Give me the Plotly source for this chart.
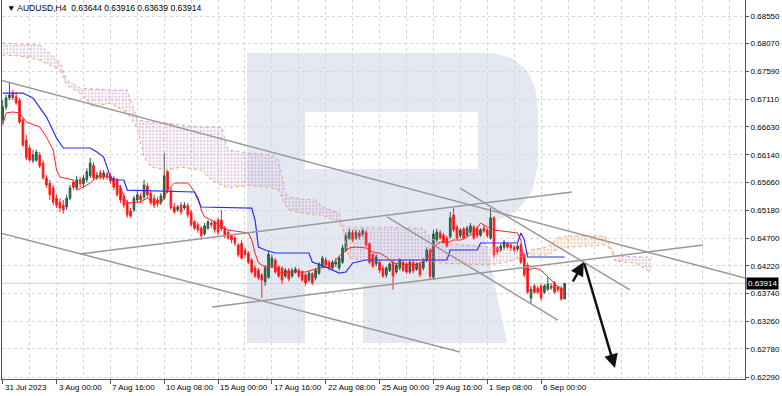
import plotly.graph_objects as go

# ---------------- data (AUDUSD H4) ----------------
opens = [0.6675, 0.6697, 0.6713, 0.6721, 0.6715, 0.6709, 0.6675, 0.6640, 0.6626, 0.6604,
         0.6605, 0.6614, 0.6600, 0.6574, 0.6565, 0.6557, 0.6539, 0.6532, 0.6527, 0.6524,
         0.6539, 0.6567, 0.6557, 0.6571, 0.6564, 0.6571, 0.6578, 0.6596, 0.6574, 0.6583,
         0.6576, 0.6581, 0.6578, 0.6574, 0.6571, 0.6557, 0.6543, 0.6532, 0.6517, 0.6519,
         0.6536, 0.6543, 0.6541, 0.6560, 0.6548, 0.6539, 0.6536, 0.6532, 0.6539, 0.6585,
         0.6553, 0.6524, 0.6519, 0.6527, 0.6522, 0.6526, 0.6515, 0.6498, 0.6493, 0.6487,
         0.6477, 0.6487, 0.6496, 0.6498, 0.6501, 0.6501, 0.6487, 0.6480, 0.6474, 0.6470,
         0.6458, 0.6461, 0.6449, 0.6444, 0.6432, 0.6418, 0.6414, 0.6406, 0.6394, 0.6402,
         0.6421, 0.6432, 0.6420, 0.6418, 0.6404, 0.6414, 0.6404, 0.6411, 0.6414, 0.6411,
         0.6406, 0.6397, 0.6408, 0.6401, 0.6409, 0.6421, 0.6432, 0.6428, 0.6418, 0.6425,
         0.6418, 0.6428, 0.6449, 0.6470, 0.6480, 0.6470, 0.6479, 0.6477, 0.6480, 0.6460,
         0.6441, 0.6425, 0.6428, 0.6418, 0.6406, 0.6414, 0.6428, 0.6411, 0.6418, 0.6428,
         0.6425, 0.6411, 0.6428, 0.6416, 0.6425, 0.6418, 0.6432, 0.6449, 0.6402, 0.6467,
         0.6479, 0.6475, 0.6470, 0.6472, 0.6510, 0.6489, 0.6474, 0.6486, 0.6475, 0.6480,
         0.6489, 0.6487, 0.6475, 0.6487, 0.6484, 0.6470, 0.6505, 0.6453, 0.6449, 0.6454,
         0.6460, 0.6458, 0.6454, 0.6451, 0.6458, 0.6441, 0.6423, 0.6366, 0.6387, 0.6383,
         0.6387, 0.6376, 0.6381, 0.6387, 0.6392, 0.6385, 0.6383, 0.63644]
highs = [0.6709, 0.6718, 0.6741, 0.6727, 0.6723, 0.6713, 0.6678, 0.6649, 0.6631, 0.6623,
         0.6623, 0.6619, 0.6605, 0.6579, 0.6571, 0.6562, 0.6545, 0.6539, 0.6536, 0.6545,
         0.6562, 0.6571, 0.6578, 0.6576, 0.6579, 0.6591, 0.6609, 0.6602, 0.6585, 0.6588,
         0.6588, 0.6585, 0.6583, 0.6578, 0.6574, 0.6562, 0.6548, 0.6536, 0.6522, 0.6543,
         0.6553, 0.6548, 0.6571, 0.6565, 0.6553, 0.6545, 0.6541, 0.6548, 0.6617, 0.6588,
         0.6558, 0.6531, 0.6527, 0.6532, 0.6532, 0.6531, 0.6519, 0.6501, 0.6498, 0.6491,
         0.6496, 0.6501, 0.6501, 0.6501, 0.6505, 0.6519, 0.6491, 0.6484, 0.6477, 0.6474,
         0.6461, 0.6467, 0.6453, 0.6447, 0.6435, 0.6423, 0.6418, 0.6409, 0.6423, 0.6447,
         0.6441, 0.6435, 0.6423, 0.6421, 0.6418, 0.6418, 0.6418, 0.6420, 0.6418, 0.6414,
         0.6409, 0.6413, 0.6411, 0.6418, 0.6428, 0.6439, 0.6437, 0.6432, 0.6432, 0.6435,
         0.6439, 0.6458, 0.6479, 0.6486, 0.6484, 0.6484, 0.6484, 0.6487, 0.6484, 0.6463,
         0.6444, 0.6442, 0.6432, 0.6423, 0.6421, 0.6428, 0.6432, 0.6427, 0.6435, 0.6432,
         0.6428, 0.6432, 0.6432, 0.6428, 0.6428, 0.6435, 0.6454, 0.6453, 0.6484, 0.6486,
         0.6484, 0.6479, 0.6474, 0.6515, 0.6522, 0.6493, 0.6487, 0.6489, 0.6491, 0.6496,
         0.6493, 0.6491, 0.6487, 0.6493, 0.6487, 0.6522, 0.6508, 0.6456, 0.6460, 0.6467,
         0.6463, 0.6461, 0.6458, 0.6460, 0.6461, 0.6444, 0.6427, 0.6387, 0.6390, 0.6387,
         0.6390, 0.6390, 0.6402, 0.6392, 0.6395, 0.6388, 0.6387, 0.63916]
lows = [0.6669, 0.6692, 0.6709, 0.6709, 0.6701, 0.6668, 0.6628, 0.6605, 0.6602, 0.6600,
        0.6602, 0.6591, 0.6571, 0.6557, 0.6536, 0.6527, 0.6522, 0.6515, 0.6512, 0.6519,
        0.6536, 0.6553, 0.6553, 0.6558, 0.6558, 0.6567, 0.6574, 0.6571, 0.6571, 0.6571,
        0.6571, 0.6571, 0.6564, 0.6553, 0.6541, 0.6531, 0.6522, 0.6505, 0.6505, 0.6515,
        0.6532, 0.6531, 0.6536, 0.6539, 0.6527, 0.6522, 0.6524, 0.6527, 0.6536, 0.6548,
        0.6519, 0.6512, 0.6515, 0.6510, 0.6519, 0.6505, 0.6489, 0.6484, 0.6479, 0.6467,
        0.6474, 0.6484, 0.6487, 0.6479, 0.6475, 0.6482, 0.6470, 0.6467, 0.6461, 0.6456,
        0.6437, 0.6432, 0.6435, 0.6425, 0.6408, 0.6401, 0.6397, 0.6366, 0.6387, 0.6399,
        0.6418, 0.6408, 0.6401, 0.6390, 0.6401, 0.6395, 0.6401, 0.6408, 0.6401, 0.6394,
        0.6387, 0.6394, 0.6388, 0.6397, 0.6406, 0.6418, 0.6420, 0.6414, 0.6414, 0.6420,
        0.6414, 0.6425, 0.6446, 0.6467, 0.6463, 0.6467, 0.6467, 0.6472, 0.6454, 0.6425,
        0.6418, 0.6421, 0.6409, 0.6401, 0.6401, 0.6411, 0.6380, 0.6408, 0.6414, 0.6411,
        0.6408, 0.6408, 0.6409, 0.6413, 0.6402, 0.6414, 0.6428, 0.6397, 0.6397, 0.6463,
        0.6467, 0.6460, 0.6453, 0.6469, 0.6480, 0.6467, 0.6470, 0.6467, 0.6472, 0.6477,
        0.6467, 0.6470, 0.6472, 0.6479, 0.6470, 0.6467, 0.6435, 0.6441, 0.6446, 0.6451,
        0.6451, 0.6449, 0.6446, 0.6447, 0.6425, 0.6402, 0.6373, 0.6357, 0.6373, 0.6373,
        0.6361, 0.6373, 0.6378, 0.6380, 0.6373, 0.6376, 0.6361, 0.63639]
closes = [0.6697, 0.6713, 0.6718, 0.6713, 0.6704, 0.6671, 0.6631, 0.6609, 0.6605, 0.6614,
          0.6619, 0.6595, 0.6574, 0.6562, 0.6545, 0.6532, 0.6527, 0.6522, 0.6519, 0.6539,
          0.6557, 0.6558, 0.6571, 0.6564, 0.6574, 0.6585, 0.6600, 0.6574, 0.6579, 0.6576,
          0.6583, 0.6576, 0.6569, 0.6558, 0.6545, 0.6536, 0.6527, 0.6510, 0.6508, 0.6539,
          0.6545, 0.6536, 0.6562, 0.6545, 0.6531, 0.6527, 0.6531, 0.6543, 0.6578, 0.6553,
          0.6522, 0.6515, 0.6524, 0.6515, 0.6527, 0.6510, 0.6493, 0.6487, 0.6484, 0.6474,
          0.6491, 0.6498, 0.6493, 0.6484, 0.6480, 0.6486, 0.6474, 0.6470, 0.6467, 0.6461,
          0.6441, 0.6435, 0.6441, 0.6428, 0.6411, 0.6404, 0.6401, 0.6397, 0.6418, 0.6442,
          0.6435, 0.6411, 0.6404, 0.6397, 0.6414, 0.6399, 0.6414, 0.6416, 0.6404, 0.6397,
          0.6392, 0.6409, 0.6392, 0.6414, 0.6425, 0.6435, 0.6423, 0.6418, 0.6428, 0.6428,
          0.6435, 0.6453, 0.6474, 0.6480, 0.6467, 0.6480, 0.6472, 0.6482, 0.6458, 0.6428,
          0.6421, 0.6437, 0.6414, 0.6404, 0.6418, 0.6425, 0.6404, 0.6423, 0.6432, 0.6414,
          0.6411, 0.6428, 0.6413, 0.6425, 0.6406, 0.6430, 0.6449, 0.6404, 0.6477, 0.6480,
          0.6470, 0.6463, 0.6456, 0.6505, 0.6484, 0.6470, 0.6484, 0.6470, 0.6487, 0.6491,
          0.6470, 0.6474, 0.6484, 0.6482, 0.6474, 0.6505, 0.6441, 0.6446, 0.6456, 0.6463,
          0.6454, 0.6453, 0.6449, 0.6456, 0.6428, 0.6406, 0.6376, 0.6381, 0.6376, 0.6376,
          0.6366, 0.6387, 0.6390, 0.6383, 0.6376, 0.6380, 0.6364, 0.63914]
bar_index = list(range(len(closes)))

# Ichimoku
tenkan_x = [0, 1, 3, 5, 7, 11, 13, 15, 16, 17, 21, 22, 24, 26, 28, 32, 33, 35, 36, 37,
            41, 43, 45, 47, 48, 49, 51, 55, 56, 58, 59, 60, 62, 65, 67, 73, 74, 75, 76, 78,
            81, 82, 86, 90, 94, 98, 99, 101, 103, 105, 108, 110, 112, 114, 116, 122, 124, 126, 128, 130,
            132, 134, 136, 138, 140, 142, 144, 146, 153, 154, 155, 156, 158, 160, 162, 163, 165, 167]
tenkan = [0.66660, 0.66868, 0.66885, 0.66868, 0.66712, 0.66625, 0.66451, 0.66226, 0.65879, 0.65758,
          0.65706, 0.65532, 0.65584, 0.65654, 0.65758, 0.65758, 0.65654, 0.65584, 0.65411, 0.65307,
          0.65324, 0.65394, 0.65307, 0.65307, 0.65411, 0.65532, 0.65654, 0.65654, 0.65584, 0.65411,
          0.65186, 0.65064, 0.65012, 0.64891, 0.64839, 0.64787, 0.64665, 0.64440, 0.64267, 0.64197,
          0.64197, 0.64093, 0.64111, 0.64111, 0.64180, 0.64197, 0.64319, 0.64440, 0.64527, 0.64544,
          0.64527, 0.64457, 0.64440, 0.64371, 0.64267, 0.64232, 0.64267, 0.64319, 0.64544, 0.64631,
          0.64614, 0.64665, 0.64665, 0.64717, 0.64787, 0.64960, 0.64891, 0.64839, 0.64787, 0.64665,
          0.64197, 0.64145, 0.64180, 0.64145, 0.64024, 0.63972, 0.63850, 0.63798]
kijun_x = [0, 6, 9, 11, 13, 16, 18, 26, 28, 30, 32, 33, 36, 37, 57, 59, 74, 75, 76, 78,
           81, 91, 92, 96, 100, 102, 104, 108, 132, 133, 141, 142, 153, 154, 155, 156, 167]
kijun = [0.67214, 0.67214, 0.67128, 0.66972, 0.66798, 0.66434, 0.66261, 0.66261, 0.66191, 0.66105,
         0.65758, 0.65706, 0.65706, 0.65532, 0.65498, 0.65238, 0.65220, 0.65012, 0.64544, 0.64492,
         0.64440, 0.64440, 0.64284, 0.64197, 0.64093, 0.64111, 0.64267, 0.64319, 0.64319, 0.64492,
         0.64492, 0.64614, 0.64614, 0.64787, 0.64665, 0.64371, 0.64371]
cloud_x = [0, 5, 11, 17, 19, 23, 27, 32, 37, 40, 42, 44, 49, 53, 59, 62, 65, 67, 73, 80,
           82, 84, 85, 89, 93, 95, 100, 101, 102, 103, 106, 125, 127, 130, 144, 150, 155, 156, 157, 162,
           165, 168, 179, 181, 182, 188, 191, 193]
span_a = [0.67873, 0.67856, 0.67787, 0.67613, 0.67353, 0.67214, 0.66972, 0.67041, 0.66868, 0.66607,
          0.66105, 0.65931, 0.65879, 0.65931, 0.65879, 0.65706, 0.65619, 0.65567, 0.65619, 0.65567,
          0.65532, 0.65272, 0.65186, 0.65134, 0.65099, 0.65099, 0.64978, 0.64874, 0.64579, 0.64353,
          0.64319, 0.64319, 0.64301, 0.64267, 0.64232, 0.64284, 0.64388, 0.64440, 0.64492, 0.64544,
          0.64700, 0.64735, 0.64735, 0.64492, 0.64301, 0.64267, 0.64163, 0.64094]
span_b = [0.68081, 0.68064, 0.68047, 0.67752, 0.67440, 0.67301, 0.67284, 0.67266, 0.67266, 0.66746,
          0.66729, 0.66712, 0.66694, 0.66660, 0.66625, 0.66625, 0.66625, 0.66226, 0.66174, 0.66140,
          0.66053, 0.65480, 0.65411, 0.65376, 0.65359, 0.65238, 0.65134, 0.64926, 0.64891, 0.64891,
          0.64891, 0.64874, 0.64700, 0.64614, 0.64544, 0.64492, 0.64457, 0.64440, 0.64405, 0.64405,
          0.64509, 0.64544, 0.64579, 0.64492, 0.64388, 0.64370, 0.64370, 0.64370]
cloud_regions = [(0, 156, "#c393c3"), (156, 181, "#f4a460"), (181, 193, "#c393c3")]

# analyst drawings: (bar, price) endpoints
trend_lines = [
    ((-0.8, 0.67440), (220.6, 0.64007)),
    ((-0.8, 0.64787), (135.9, 0.62724)),
    ((62.2, 0.63504), (208.1, 0.64579)),
    ((23.0, 0.64423), (169.2, 0.65498)),
    ((135.9, 0.65567), (186.4, 0.63799)),
    ((114.2, 0.65065), (165.0, 0.63278)),
]
arrows = [((169.2, 0.63920), (172.7, 0.64284)),
          ((172.7, 0.64284), (181.96, 0.62446))]

last_price = 0.63914
title_text = "▼ AUDUSD,H4  0.63644 0.63916 0.63639 0.63914"
tick_idx = [0, 16, 32, 48, 64, 80, 96, 112, 128, 144, 160]
tick_labels = ["31 Jul 2023", "3 Aug 00:00", "7 Aug 16:00", "10 Aug 08:00", "15 Aug 00:00",
               "17 Aug 16:00", "22 Aug 08:00", "25 Aug 00:00", "29 Aug 16:00", "1 Sep 08:00",
               "6 Sep 00:00"]
price_ticks = [0.68550, 0.68070, 0.67590, 0.67110, 0.66630, 0.66140, 0.65660, 0.65180,
               0.64700, 0.64220, 0.63740, 0.63260, 0.62780, 0.62290]

# ---------------- layout constants ----------------
W, H = 782, 396
ML, MR, MT, MB = 2, 37, 0, 17
PW, PH = W - ML - MR, H - MT - MB
FONT = "Liberation Sans, Arial, sans-serif"
GRID = "#d6d6d6"

fig = go.Figure()

# Ichimoku cloud hatch
for lo, hi, col in cloud_regions:
    idx = [k for k, xv in enumerate(cloud_x) if lo <= xv <= hi]
    xs = [cloud_x[k] for k in idx]
    fig.add_trace(go.Scatter(x=xs, y=[span_a[k] for k in idx], mode="lines",
                             line=dict(width=0), hoverinfo="skip", showlegend=False))
    fig.add_trace(go.Scatter(x=xs, y=[span_b[k] for k in idx], mode="lines",
                             line=dict(width=0), fill="tonexty", fillcolor="rgba(0,0,0,0)",
                             fillpattern=dict(shape=".", fgcolor=col, bgcolor="rgba(0,0,0,0)",
                                              size=3.4, solidity=0.38),
                             hoverinfo="skip", showlegend=False))
fig.add_trace(go.Scatter(x=cloud_x, y=span_a, mode="lines",
                         line=dict(color="#f4a460", width=1, dash="dot"),
                         hoverinfo="skip", showlegend=False))
fig.add_trace(go.Scatter(x=cloud_x, y=span_b, mode="lines",
                         line=dict(color="#cfa6cf", width=1, dash="dot"),
                         hoverinfo="skip", showlegend=False))

# candles
fig.add_trace(go.Candlestick(
    x=bar_index, open=opens, high=highs, low=lows, close=closes,
    increasing=dict(line=dict(color="#2a5a45", width=1), fillcolor="#2e7355"),
    decreasing=dict(line=dict(color="#ff2424", width=1), fillcolor="#ff0000"),
    whiskerwidth=0, hoverinfo="skip", showlegend=False))

# Tenkan / Kijun
fig.add_trace(go.Scatter(x=tenkan_x, y=tenkan, mode="lines",
                         line=dict(color="#ff2020", width=1), hoverinfo="skip", showlegend=False))
fig.add_trace(go.Scatter(x=kijun_x, y=kijun, mode="lines",
                         line=dict(color="#2a2aff", width=1.2), hoverinfo="skip", showlegend=False))

# trend lines
tx, ty = [], []
for (x0, y0), (x1, y1) in trend_lines:
    tx += [x0, x1, None]
    ty += [y0, y1, None]
fig.add_trace(go.Scatter(x=tx, y=ty, mode="lines", line=dict(color="#999999", width=1.5),
                         hoverinfo="skip", showlegend=False))

# arrows
for (x0, y0), (x1, y1) in arrows:
    fig.add_annotation(x=x1, y=y1, ax=x0, ay=y0, xref="x", yref="y", axref="x", ayref="y",
                       text="", showarrow=True, arrowhead=2, arrowsize=1.1,
                       arrowwidth=2.5, arrowcolor="#111111", standoff=0, startstandoff=0)

# watermark logo (pixel outline -> paper)
def to_paper(px, py):
    return (px - ML) / PW, 1 - (py - MT) / PH

R_OUTER = [(247, 53), (492, 53), (512, 58), (527, 70), (535, 88), (538, 110), (538, 165),
           (532, 192), (518, 210), (495, 222), (484, 232), (507, 343), (363, 343), (363, 283),
           (305, 283), (305, 343), (247, 343)]
R_HOLE = [(305, 112), (305, 169), (478, 169), (478, 112)]

def path_of(pts):
    s = ""
    for k, (a, b) in enumerate(pts):
        u, v = to_paper(a, b)
        s += ("M" if k == 0 else "L") + f"{u:.4f},{v:.4f} "
    return s + "Z "

fig.add_shape(type="path", path=path_of(R_OUTER) + path_of(R_HOLE), xref="paper", yref="paper",
              fillcolor="#e3e8f1", line=dict(width=0), layer="below")

# bid line
fig.add_shape(type="line", xref="paper", yref="y", x0=0, x1=1, y0=last_price, y1=last_price,
              line=dict(color="#cfcfcf", width=1), layer="below")

# title
fig.add_annotation(xref="paper", yref="paper", x=to_paper(5, 0)[0], y=to_paper(0, 8)[1],
                   xanchor="left", yanchor="middle", showarrow=False, text=title_text,
                   font=dict(family=FONT, size=8.5, color="#000000"))

# last price label
fig.add_annotation(xref="paper", yref="y", x=1, y=last_price, xanchor="left", yanchor="middle",
                   xshift=1, showarrow=False, text=f"{last_price:.5f}", bgcolor="#000000",
                   borderpad=1, font=dict(family=FONT, size=8, color="#ffffff"))

# x tick labels (left-aligned like the terminal)
for xi, lab in zip(tick_idx, tick_labels):
    fig.add_annotation(xref="x", yref="paper", x=xi, y=to_paper(0, 387)[1], xanchor="left",
                       yanchor="middle", xshift=0, showarrow=False, text=lab,
                       font=dict(family=FONT, size=8, color="#000000"))

fig.update_layout(
    width=W, height=H, margin=dict(l=ML, r=MR, t=MT, b=MB),
    paper_bgcolor="white", plot_bgcolor="white", showlegend=False,
    font=dict(family=FONT, size=8, color="#000000"),
    xaxis=dict(range=[-0.21, 220.6], tickvals=tick_idx, showticklabels=False,
               ticks="outside", ticklen=4, tickcolor="#555555",
               showgrid=True, gridcolor=GRID, griddash="3px,3px", gridwidth=1,
               minor=dict(tick0=0, dtick=8, showgrid=True, gridcolor=GRID, griddash="3px,3px",
                          ticks=""),
               showline=True, linecolor="#555555", linewidth=1, zeroline=False,
               rangeslider=dict(visible=False), fixedrange=True),
    yaxis=dict(side="right", range=[0.622553, 0.688274], tickvals=price_ticks,
               ticktext=[f"{v:.5f}" for v in price_ticks], ticks="outside", ticklen=3,
               tickcolor="#555555", tickfont=dict(family=FONT, size=8, color="#000000"),
               showgrid=True, gridcolor=GRID, griddash="3px,3px", gridwidth=1,
               showline=True, mirror=True, linecolor="#555555", linewidth=1, zeroline=False,
               fixedrange=True),
)

fig.write_html("out.html")
